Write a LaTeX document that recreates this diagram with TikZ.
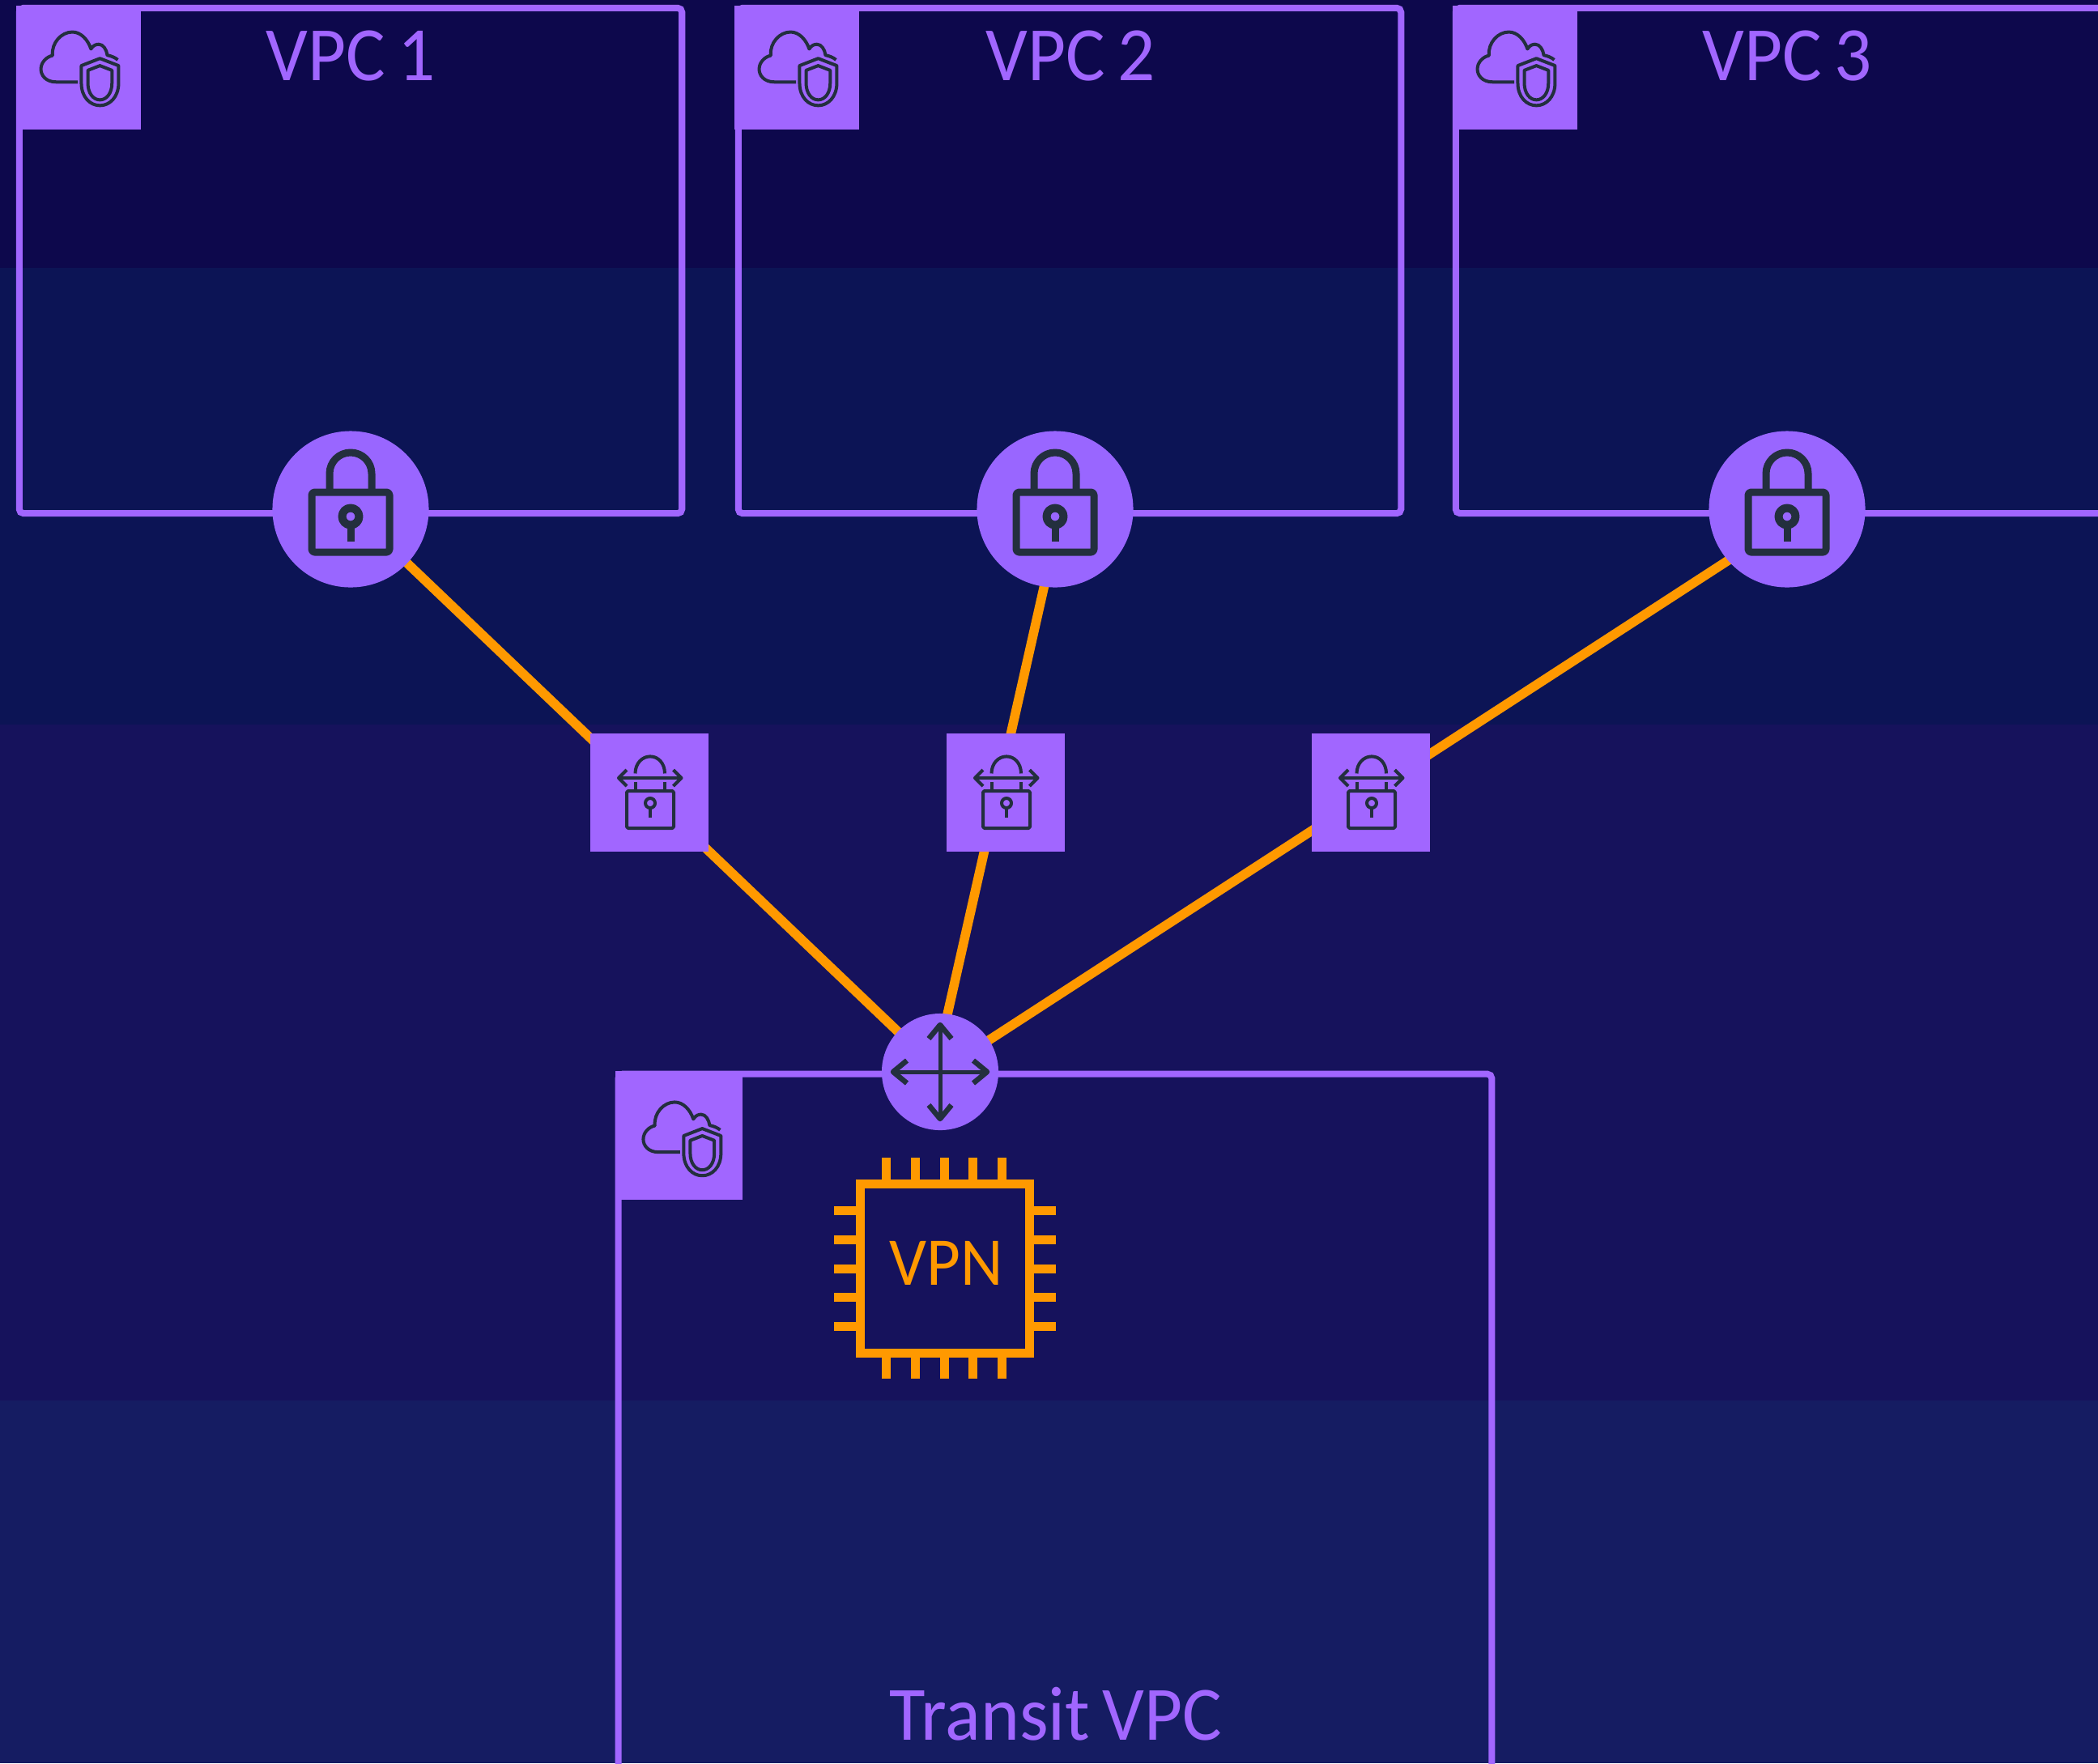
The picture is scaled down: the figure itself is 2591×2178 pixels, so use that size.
\documentclass[tikz,border=0pt]{standalone}
\usepackage{fontspec}
\setmainfont[FakeStretch=0.96,WordSpace=0.75]{Carlito}
\usepackage{xcolor}
\usepackage{tikz}
\usetikzlibrary{positioning}
\definecolor{BandOne}{RGB}{13, 8, 76}
\definecolor{BandTwo}{RGB}{12, 20, 85}
\definecolor{BandThree}{RGB}{22, 18, 92}
\definecolor{BandFour}{RGB}{21, 28, 98}
\definecolor{VpcPurple}{RGB}{161, 102, 255}
\definecolor{GatePurple}{RGB}{153, 102, 255}
\definecolor{LinkOrange}{RGB}{255, 153, 0}
\definecolor{IconDark}{RGB}{35, 47, 62}
\pgfdeclarelayer{base}
\pgfdeclarelayer{links}
\pgfsetlayers{base,links,main}
\tikzset{
    cloudshield/.pic={
        \draw[icon] (-1, 18.5) -- (-29, 18.5) .. controls (-42, 18.5) and (-48.4, 10) .. (-48.4, 2)
            .. controls (-48.4, -7) and (-41, -14) .. (-33.5, -15.5)
            .. controls (-35, -32) and (-22, -45.8) .. (-8, -45.8)
            .. controls (3, -45.8) and (12, -36) .. (16, -24)
            .. controls (19, -29) and (23, -30) .. (26, -30)
            .. controls (32, -30) and (36, -23) .. (37, -16)
            .. controls (42, -15) and (47, -13) .. (50.5, -10);
        \draw[icon] (27.5, -11.8) -- (51.5, -2.5) -- (51.5, 20) .. controls (51.5, 38) and (40, 48.8) .. (27.5, 48.8)
            .. controls (15, 48.8) and (3.6, 38) .. (3.6, 20) -- (3.6, -2.5) -- cycle;
        \draw[icon] (27.5, -2.5) -- (43, 3.5) -- (43, 20) .. controls (43, 33) and (36, 41.5) .. (27.5, 41.5)
            .. controls (19, 41.5) and (12, 33) .. (12, 20) -- (12, 3.5) -- cycle;
    },
    biglock/.pic={
        \draw[icon, line width=0.09cm, rounded corners=1pt] (-48, -21) rectangle (48, 53);
        \draw[icon, line width=0.09cm] (-26, -21) -- (-26, -44) .. controls (-26, -58.4) and (-14.4, -70) .. (0, -70)
            .. controls (14.4, -70) and (26, -58.4) .. (26, -44) -- (26, -21);
        \draw[icon, line width=0.1cm] (0, 9) circle [radius=10.5];
        \draw[icon, line width=0.09cm] (0, 20) -- (0, 40);
    },
    smalllock/.pic={
        \draw[icon, rounded corners=0.5pt] (-28, -2) rectangle (30, 44);
        \draw[icon] (-17.5, -23.6) .. controls (-17.5, -36) and (-9, -44.6) .. (1, -44.6)
            .. controls (11, -44.6) and (19, -36) .. (19, -23.6);
        \draw[icon] (-17.5, -13) -- (-17.5, -2);
        \draw[icon] (19, -13) -- (19, -2);
        \draw[icon] (-38, -18) -- (39.5, -18);
        \draw[icon] (-28, -28) -- (-38, -18) -- (-28, -8);
        \draw[icon] (29.5, -28) -- (39.5, -18) -- (29.5, -8);
        \draw[icon] (1, 13) circle [radius=6];
        \draw[icon] (1, 20) -- (1, 31);
    },
    crossarrows/.pic={
        \draw[icon, line width=0.05cm] (-58, 0) -- (58, 0);
        \draw[icon, line width=0.05cm] (0, -58) -- (0, 58);
        \draw[icon, line width=0.065cm] (-41, -14) -- (-58, 0) -- (-41, 14);
        \draw[icon, line width=0.065cm] (41, -14) -- (58, 0) -- (41, 14);
        \draw[icon, line width=0.065cm] (-14, -41) -- (0, -58) -- (14, -41);
        \draw[icon, line width=0.065cm] (-14, 41) -- (0, 58) -- (14, 41);
    }
}

\begin{document}
\begin{tikzpicture}[
            x=0.01cm, y=-0.01cm,
            band/.style={inner sep=0pt, minimum width=25.91cm},
            vpc/.style={draw=VpcPurple, line width=0.08cm, rounded corners=1.5pt, inner sep=0pt},
            tab/.style={fill=VpcPurple, inner sep=0pt, minimum width=1.54cm, minimum height=1.53cm},
            label/.style={font=\fontsize{27}{27}\selectfont, text=VpcPurple, anchor=base, inner sep=0pt},
            gate/.style={circle, fill=GatePurple, inner sep=0pt, minimum size=1.93cm},
            hubgate/.style={circle, fill=GatePurple, inner sep=0pt, minimum size=1.44cm},
            tunnel/.style={fill=VpcPurple, inner sep=0pt, minimum size=1.45cm},
            icon/.style={draw=IconDark, line width=0.04cm, line join=round},
            link/.style={draw=LinkOrange, line width=0.115cm},
            chip/.style={draw=LinkOrange, line width=0.11cm, inner sep=0pt, minimum width=2.09cm, minimum height=2.095cm},
            pin/.style={draw=LinkOrange, line width=0.11cm}
        ]
        \useasboundingbox (0, 0) rectangle (2591, 2178);

        \begin{pgfonlayer}{base}
        % Background bands
        \node[band, fill=BandOne, minimum height=3.31cm] (b1) at (1295.5, 165.5) {};
        \node[band, fill=BandTwo, minimum height=5.64cm] (b2) at (1295.5, 613) {};
        \node[band, fill=BandThree, minimum height=8.35cm] (b3) at (1295.5, 1312.5) {};
        \node[band, fill=BandFour, minimum height=4.48cm] (b4) at (1295.5, 1954) {};

        % VPC boxes
        \node[vpc, minimum width=8.18cm, minimum height=6.24cm] (vpc1) at (433, 322) {};
        \node[vpc, minimum width=8.18cm, minimum height=6.24cm] (vpc2) at (1321, 322) {};
        \node[vpc, minimum width=8.18cm, minimum height=6.24cm] (vpc3) at (2207, 322) {};
        \node[vpc, minimum width=10.78cm, minimum height=10cm] (transit) at (1303, 1827) {};

        % Corner tabs
        \node[tab] (tab1) at (97, 83.5) {};
        \node[tab] (tab2) at (984, 83.5) {};
        \node[tab] (tab3) at (1871, 83.5) {};
        \node[tab, minimum width=1.57cm, minimum height=1.59cm] (tab4) at (838.5, 1402.5) {};
        \end{pgfonlayer}

        \pic[scale=0.96] at (tab1) {cloudshield};
        \pic[scale=0.96] at (tab2) {cloudshield};
        \pic[scale=0.96] at (tab3) {cloudshield};
        \pic[scale=0.96, shift={(2.5, 3)}] at (tab4) {cloudshield};

        % Labels
        \node[label] (name1) at (433, 99) {VPC 1};
        \node[label] (name2) at (1322, 99) {VPC 2};
        \node[label] (name3) at (2207, 99) {VPC 3};
        \node[label] (name4) at (1304, 2149) {Transit VPC};

        % Gateways
        \node[gate] (gate1) at (433, 629) {};
        \node[gate] (gate2) at (1303, 629) {};
        \node[gate] (gate3) at (2207, 629) {};
        \node[hubgate] (hub) at (1161, 1324) {};

        % Tunnel squares
        \node[tunnel] (tun1) at (802, 979) {};
        \node[tunnel] (tun2) at (1242, 979) {};
        \node[tunnel] (tun3) at (1693, 979) {};

        % Links behind the gateways and squares
        \begin{pgfonlayer}{links}
        \draw[link] (gate1.center) -- (hub.center);
        \draw[link] ([xshift=0.08cm]gate2.center) -- ([xshift=-0.07cm]hub.center);
        \draw[link] ([yshift=-0.16cm]gate3.center) -- (hub.center);
        \end{pgfonlayer}

        % Icons
        \pic at (gate1) {biglock};
        \pic at (gate2) {biglock};
        \pic at (gate3) {biglock};
        \pic at (tun1) {smalllock};
        \pic at (tun2) {smalllock};
        \pic at (tun3) {smalllock};
        \pic at (hub) {crossarrows};

        % VPN chip
        \node[chip] (cpu) at (1167, 1567) {};
        \node[label, font=\fontsize{24}{24}\selectfont, text=LinkOrange] (vpn) at (1169, 1587) {VPN};
        \draw[pin] (1094, 1430) -- (1094, 1457) (1130, 1430) -- (1130, 1457) (1166, 1430) -- (1166, 1457) (1201, 1430) -- (1201, 1457) (1237, 1430) -- (1237, 1457);
        \draw[pin] (1094, 1677) -- (1094, 1703) (1130, 1677) -- (1130, 1703) (1166, 1677) -- (1166, 1703) (1201, 1677) -- (1201, 1703) (1237, 1677) -- (1237, 1703);
        \draw[pin] (1030, 1495) -- (1057, 1495) (1030, 1531) -- (1057, 1531) (1030, 1567) -- (1057, 1567) (1030, 1602) -- (1057, 1602) (1030, 1638) -- (1057, 1638);
        \draw[pin] (1277, 1495) -- (1304, 1495) (1277, 1531) -- (1304, 1531) (1277, 1567) -- (1304, 1567) (1277, 1602) -- (1304, 1602) (1277, 1638) -- (1304, 1638);

\end{tikzpicture}
\end{document}
